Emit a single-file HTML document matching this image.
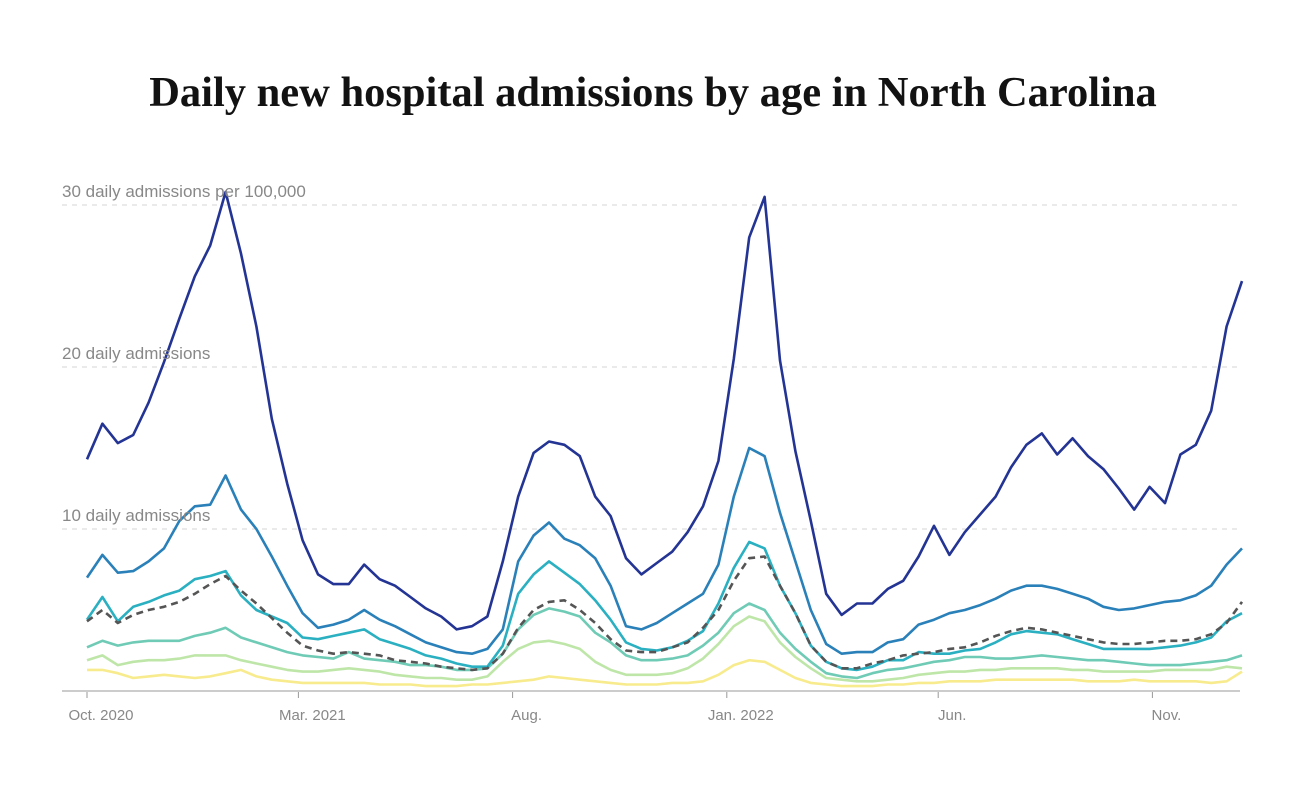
<!DOCTYPE html>
<html><head><meta charset="utf-8">
<style>
body{margin:0;background:#fff;width:1306px;height:802px;overflow:hidden}
svg{display:block}
.t{font-family:"Liberation Serif",serif;font-weight:bold;font-size:42.5px;fill:#121212}
.gl{font-family:"Liberation Sans",sans-serif;font-size:17px;fill:#888;paint-order:stroke;stroke:#fff;stroke-width:0px}
.xl{font-family:"Liberation Sans",sans-serif;font-size:15px;fill:#888}
</style></head>
<body>
<svg id="chart" width="1306" height="802">
<text class="t" x="653" y="106" text-anchor="middle">Daily new hospital admissions by age in North Carolina</text>
<g id="grid"></g><g id="lines"></g><g id="labels"></g><g id="xaxis"></g>
</svg>
<script>
const days=[0,11,22,33,44,55,66,77,88,99,110,121,132,143,154,165,176,187,198,209,220,231,242,253,264,275,286,297,308,319,330,341,352,363,374,385,396,407,418,429,440,451,462,473,484,495,506,517,528,539,550,561,572,583,594,605,616,627,638,649,660,671,682,693,704,715,726,737,748,759,770,781,792,803,814,825];
const s1=[14.3,16.5,15.3,15.8,17.8,20.3,23.0,25.6,27.5,30.8,27,22.5,16.8,12.8,9.3,7.2,6.6,6.6,7.8,6.9,6.5,5.8,5.1,4.6,3.8,4.0,4.6,8.0,12.0,14.7,15.4,15.2,14.5,12.0,10.8,8.2,7.2,7.9,8.6,9.8,11.4,14.2,20.5,28.0,30.5,20.4,14.8,10.5,6.0,4.7,5.4,5.4,6.3,6.8,8.3,10.2,8.4,9.8,10.9,12.0,13.8,15.2,15.9,14.6,15.6,14.5,13.7,12.5,11.2,12.6,11.6,14.6,15.2,17.3,22.5,25.3];
const s2=[7.0,8.4,7.3,7.4,8.0,8.8,10.5,11.4,11.5,13.3,11.2,10.0,8.3,6.5,4.8,3.9,4.1,4.4,5.0,4.4,4.0,3.5,3.0,2.7,2.4,2.3,2.6,3.8,8.0,9.6,10.4,9.4,9.0,8.2,6.5,4.0,3.8,4.2,4.8,5.4,6.0,7.8,12.0,15.0,14.5,11.0,8.0,5.0,2.9,2.3,2.4,2.4,3.0,3.2,4.1,4.4,4.8,5.0,5.3,5.7,6.2,6.5,6.5,6.3,6.0,5.7,5.2,5.0,5.1,5.3,5.5,5.6,5.9,6.5,7.8,8.8];
const s3=[4.4,5.8,4.3,5.2,5.5,5.9,6.2,6.9,7.1,7.4,5.9,5.0,4.6,4.2,3.3,3.2,3.4,3.6,3.8,3.2,2.9,2.6,2.2,2.0,1.7,1.5,1.5,2.8,6.0,7.2,8.0,7.3,6.6,5.6,4.4,3.0,2.6,2.5,2.7,3.1,3.7,5.4,7.6,9.2,8.8,6.5,4.8,2.8,1.8,1.4,1.3,1.5,1.9,1.9,2.4,2.3,2.3,2.5,2.6,3.0,3.5,3.7,3.6,3.5,3.2,2.9,2.6,2.6,2.6,2.6,2.7,2.8,3.0,3.3,4.3,4.8];
const sAll=[4.3,5.0,4.2,4.7,5.0,5.2,5.5,6.0,6.6,7.1,6.2,5.4,4.5,3.6,2.8,2.5,2.3,2.4,2.3,2.2,1.9,1.8,1.7,1.5,1.4,1.3,1.4,2.3,3.9,5.0,5.5,5.6,5.0,4.2,3.2,2.5,2.4,2.4,2.7,3.0,3.9,5.0,6.8,8.2,8.3,6.5,4.8,2.8,1.8,1.4,1.4,1.7,1.9,2.2,2.3,2.4,2.6,2.7,3.0,3.4,3.7,3.9,3.8,3.6,3.4,3.2,3.0,2.9,2.9,3.0,3.1,3.1,3.2,3.5,4.2,5.5];
const s4=[2.7,3.1,2.8,3.0,3.1,3.1,3.1,3.4,3.6,3.9,3.3,3.0,2.7,2.4,2.2,2.1,2.0,2.4,2.0,1.9,1.8,1.6,1.6,1.5,1.3,1.3,1.4,2.3,3.8,4.7,5.1,4.9,4.6,3.6,3.0,2.2,1.9,1.9,2.0,2.2,2.8,3.6,4.8,5.4,5.0,3.6,2.6,1.8,1.1,0.9,0.8,1.1,1.3,1.4,1.6,1.8,1.9,2.1,2.1,2.0,2.0,2.1,2.2,2.1,2.0,1.9,1.9,1.8,1.7,1.6,1.6,1.6,1.7,1.8,1.9,2.2];
const s5=[1.9,2.2,1.6,1.8,1.9,1.9,2.0,2.2,2.2,2.2,1.9,1.7,1.5,1.3,1.2,1.2,1.3,1.4,1.3,1.2,1.0,0.9,0.8,0.8,0.7,0.7,0.9,1.8,2.6,3.0,3.1,2.9,2.6,1.8,1.3,1.0,1.0,1.0,1.1,1.4,2.0,2.9,4.0,4.6,4.3,3.0,2.1,1.4,0.8,0.7,0.6,0.6,0.7,0.8,1.0,1.1,1.2,1.2,1.3,1.3,1.4,1.4,1.4,1.4,1.3,1.3,1.2,1.2,1.2,1.2,1.3,1.3,1.3,1.3,1.5,1.4];
const s6=[1.3,1.3,1.1,0.8,0.9,1.0,0.9,0.8,0.9,1.1,1.3,0.9,0.7,0.6,0.5,0.5,0.5,0.5,0.5,0.4,0.4,0.4,0.3,0.3,0.3,0.4,0.4,0.5,0.6,0.7,0.9,0.8,0.7,0.6,0.5,0.4,0.4,0.4,0.5,0.5,0.6,1.0,1.6,1.9,1.8,1.3,0.8,0.5,0.4,0.3,0.3,0.3,0.4,0.4,0.5,0.5,0.6,0.6,0.6,0.7,0.7,0.7,0.7,0.7,0.7,0.6,0.6,0.6,0.7,0.6,0.6,0.6,0.6,0.5,0.6,1.2];
const yTicks=[10,20,30];
const yTickLabels=["10 daily admissions","20 daily admissions","30 daily admissions per 100,000"];
const xTickDays=[0,151,304,457,608,761];
const xTickLabels=["Oct. 2020","Mar. 2021","Aug.","Jan. 2022","Jun.","Nov."];

const NS="http://www.w3.org/2000/svg";
const xS=d=>87+d*1.4;
const yS=v=>691-v*16.2;
function mk(tag,attrs,parent){const e=document.createElementNS(NS,tag);for(const k in attrs)e.setAttribute(k,attrs[k]);parent.appendChild(e);return e;}
const grid=document.getElementById('grid'),lines=document.getElementById('lines'),labels=document.getElementById('labels'),xaxis=document.getElementById('xaxis');
yTicks.forEach((v,i)=>{
  const l=mk('line',{x1:62,x2:1240,y1:yS(v),y2:yS(v),stroke:'#ddd','stroke-width':1.3,'stroke-dasharray':'5,5'},grid);
  
  
  const t=mk('text',{x:62,y:yS(v)-8,class:'gl'},labels);
  t.textContent=yTickLabels[i];
  
  
});
const series=[
 {d:s6,c:'#f7eb8e',n:'line-age-youngest'},
 {d:s5,c:'#bfe6a9',n:'line-age-group-5'},
 {d:s4,c:'#6fcbb5',n:'line-age-group-4'},
 {d:s3,c:'#2ab0c1',n:'line-age-group-3'},
 {d:s2,c:'#2a80b9',n:'line-age-group-2'},
 {d:s1,c:'#233494',n:'line-age-oldest'},
 {d:sAll,c:'#555',n:'line-all-ages',dash:'7,5'}
];
series.forEach(s=>{
  const p=s.d.map((v,i)=>(i?'L':'M')+xS(days[i]).toFixed(1)+','+yS(v).toFixed(1)).join('');
  const a={d:p,fill:'none',stroke:s.c,'stroke-width':2.6,'stroke-linejoin':'round'};
  if(s.dash)a['stroke-dasharray']=s.dash;
  const e=mk('path',a,lines);
  
  
});
const ax=mk('line',{x1:62,x2:1240,y1:691,y2:691,stroke:'#ccc','stroke-width':2},xaxis);


xTickDays.forEach((d,i)=>{
  const tk=mk('line',{x1:xS(d),x2:xS(d),y1:692,y2:698,stroke:'#999','stroke-width':1},xaxis);
  
  
  const t=mk('text',{x:xS(d)+14,y:720,class:'xl','text-anchor':'middle'},xaxis);
  t.textContent=xTickLabels[i];
  
  
});
</script>
</body></html>
